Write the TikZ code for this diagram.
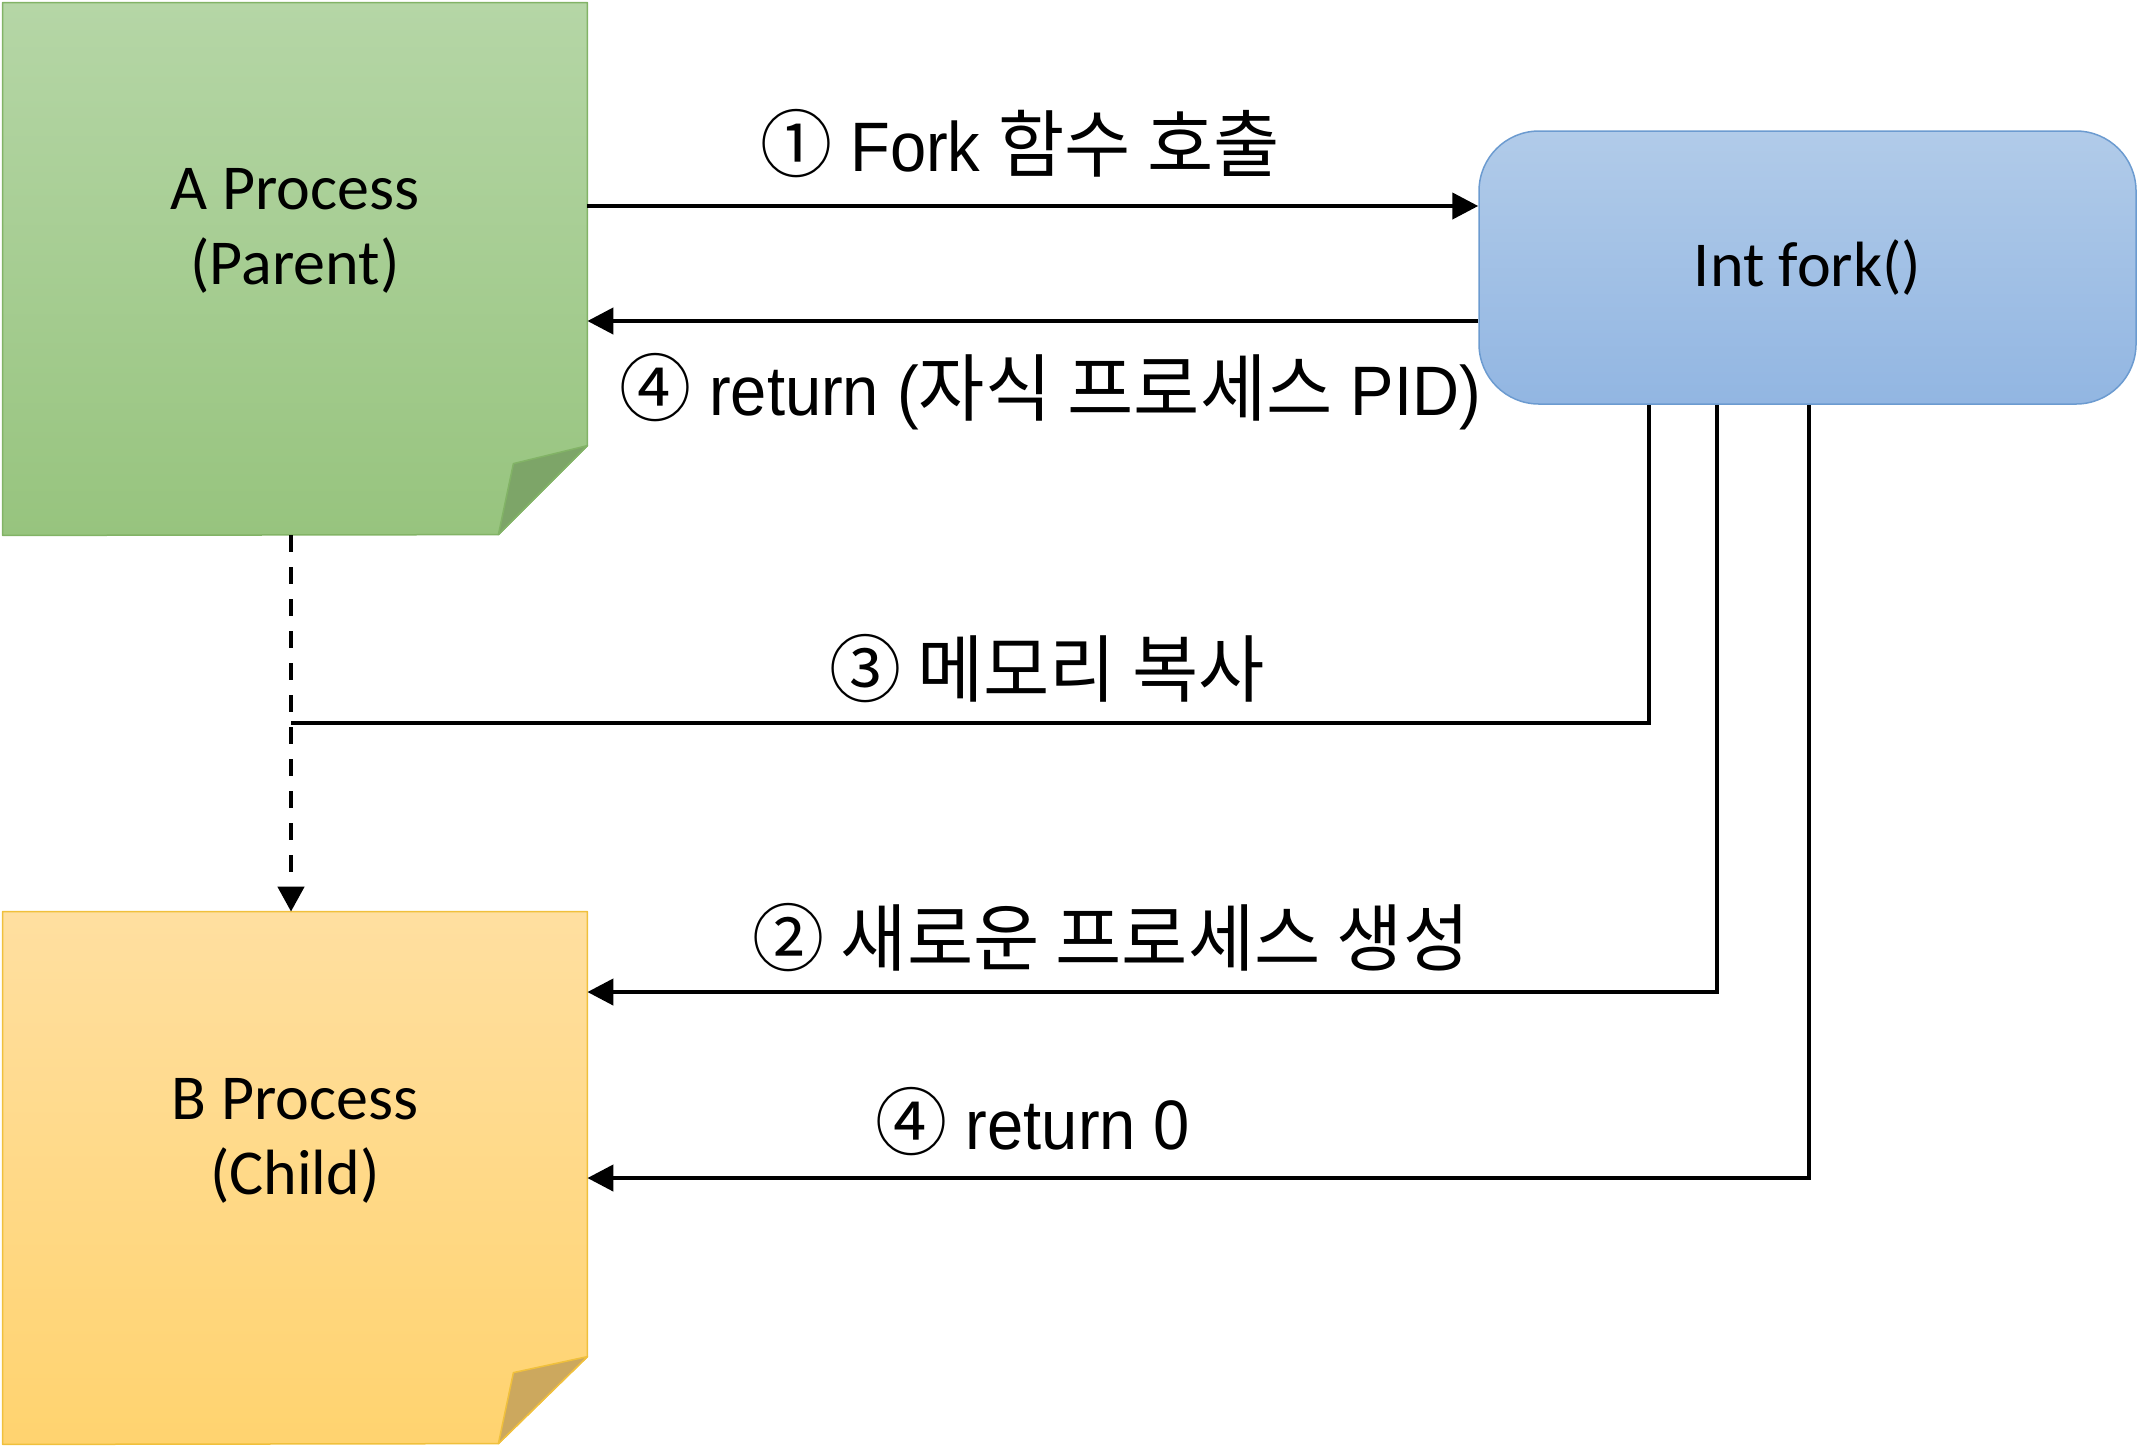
\documentclass[tikz,border=0pt]{standalone}
\usepackage{fontspec}
\setmainfont{Carlito}
\newfontfamily\lat[FakeStretch=0.93]{Liberation Sans}
\newfontfamily\kr[Scale=1.05,FakeStretch=0.98]{Noto Sans CJK KR}
\usetikzlibrary{arrows.meta}
\definecolor{gA}{HTML}{B5D6A6}
\definecolor{gB}{HTML}{97C47E}
\definecolor{gS}{HTML}{82B366}
\definecolor{gF}{HTML}{7DA568}
\definecolor{yA}{HTML}{FFDFA0}
\definecolor{yB}{HTML}{FFD36F}
\definecolor{yS}{HTML}{F0C03C}
\definecolor{yF}{HTML}{CCA85E}
\definecolor{bA}{HTML}{B1CBE9}
\definecolor{bB}{HTML}{92B6E2}
\definecolor{bS}{HTML}{6C9BD0}
\begin{document}
\begin{tikzpicture}[x=0.5pt,y=-0.5pt,
  boxtext/.style={font=\fontsize{32}{37.5}\selectfont, align=center, inner sep=0pt},
  lbl/.style={font=\lat\fontsize{35}{40}\selectfont, inner sep=0pt},
  conn/.style={line width=2.2pt, draw=black},
  arr/.style={conn, -{Triangle[length=13pt,width=13pt]}},
  notebox/.style={minimum width=292pt, minimum height=266pt, inner sep=0pt, draw=none},
  funcbox/.style={draw=bS, top color=bA, bottom color=bB, rounded corners=30pt,
    minimum width=328.5pt, minimum height=136.5pt, line width=0.75pt,
    font=\fontsize{32}{37.5}\selectfont},
  noteline/.style={line width=0.75pt, line join=round},
]
\useasboundingbox (0,0) rectangle (2140,1448);

% boxes
\node[notebox] (A) at (295,269) {};
\node[notebox] (B) at (295,1178) {};
\node[funcbox] (F) at (1807.5,267.5) {Int fork()};

% green note
\shade[noteline, top color=gA, bottom color=gB, draw=gS]
  (A.north west) -- (A.north east) -- ++(0,443) -- ++(-89,89) -- (A.south west) -- cycle;
\filldraw[noteline, fill=gF, draw=gS]
  (A.north east) ++(0,443) -- ++(-74,18) -- ++(-15,71) -- cycle;
\node[boxtext] (At) at (295,230.5) {A Process\\(Parent)};

% yellow note
\shade[noteline, top color=yA, bottom color=yB, draw=yS]
  (B.north west) -- (B.north east) -- ++(0,445) -- ++(-89,87) -- (B.south west) -- cycle;
\filldraw[noteline, fill=yF, draw=yS]
  (B.north east) ++(0,445) -- ++(-74,16) -- ++(-15,71) -- cycle;
\node[boxtext] (Bt) at (295,1141) {B Process\\(Child)};

% connectors
\coordinate (m) at (291,723);
\draw[arr] (A.east |- 0,206) -- (F.west |- 0,206);
\draw[arr] (F.west |- 0,321) -- (A.east |- 0,321);
\draw[conn, line width=2.3pt, dash pattern=on 8.5pt off 7.5pt, -{Triangle[length=12.5pt,width=13pt]}]
  (A.south -| m) -- (B.north -| m);
\draw[conn] (F.south -| 1649,0) |- (m);
\draw[arr] (F.south -| 1717,0) |- (B.east |- 0,992);
\draw[arr] (F.south -| 1809,0) |- (B.east |- 0,1178);

% labels
\node[lbl] (l1) at (1020,144) {{\kr ①} Fork {\kr 함수 호출}};
\node[lbl] (l4a) at (1050,392) {{\kr ④} return ({\kr 자식 프로세스} PID)};
\node[lbl] (l3) at (1047,669) {{\kr ③ 메모리 복사}};
\node[lbl] (l2) at (1111,938) {{\kr ② 새로운 프로세스 생성}};
\node[lbl] (l4b) at (1033,1122) {{\kr ④} return 0};
\end{tikzpicture}
\end{document}
